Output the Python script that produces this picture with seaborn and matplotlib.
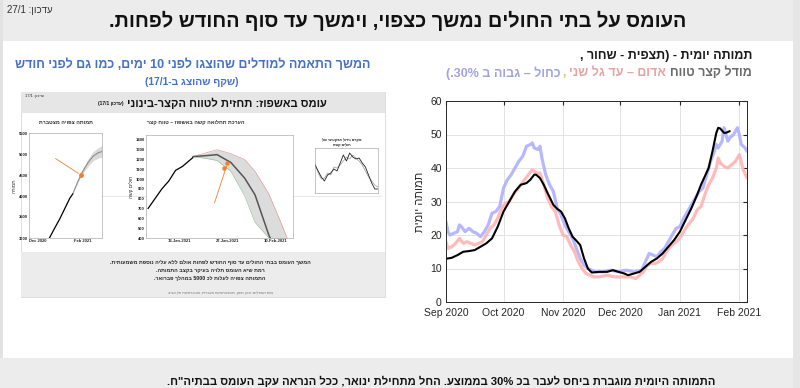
import re
import numpy as np
import pandas as pd
import matplotlib
matplotlib.use('Agg')
import matplotlib.pyplot as plt
from matplotlib.patches import Rectangle
import seaborn as sns

sns.set_style('white')
plt.rcParams['font.family'] = ['Liberation Sans', 'DejaVu Sans']


def heb(s):
    # very small bidi: reverse the hebrew line, keep numbers/latin runs left-to-right
    r = s[::-1]
    r = re.sub(r'[0-9A-Za-z%][0-9A-Za-z./:%\-]*[0-9A-Za-z%]|[0-9A-Za-z]', lambda m: m.group(0)[::-1], r)
    return r.translate(str.maketrans('()', ')('))


# ---- main chart: daily deaths (days counted from 1 Sep 2020) ----
start = pd.Timestamp('2020-09-01')
obs_days = [0, 3, 6, 9, 12, 15, 18, 21, 24, 27, 30, 33, 36, 39, 42, 44, 46, 47, 49, 51, 53, 56,
            58, 60, 62, 64, 66, 68, 70, 72, 74, 76, 80, 84, 87, 90, 93, 95, 98, 101, 104, 107,
            110, 113, 116, 119, 122, 125, 128, 131, 133, 135, 137, 139, 141, 142, 143, 145, 146, 148]
obs_vals = [12.9, 13.2, 14, 15, 15.2, 15.5, 16.5, 17.5, 19, 22.5, 27, 30, 33, 35, 35.5, 36.5, 38, 38,
            37, 35, 32.5, 29, 27.8, 27, 25, 22, 19.5, 18.3, 17, 13, 10, 8.8, 9, 9, 9.5, 9, 8.5, 8,
            8.5, 9, 10.5, 12, 13, 14.5, 16.5, 18.5, 21, 24.5, 28, 32, 35, 37.5, 40, 45, 50.5, 52,
            51.8, 50.5, 50.5, 51]

blue_days = [0, 1, 2, 4, 6, 7, 8, 10, 12, 14, 16, 18, 20, 22, 24, 26, 28, 30, 32, 34, 36, 38, 40,
             42, 44, 45, 46, 48, 49, 50, 52, 54, 56, 58, 60, 62, 64, 66, 68, 70, 72, 74, 76, 78,
             82, 86, 90, 94, 98, 102, 104, 106, 108, 110, 112, 114, 116, 118, 120, 122, 124, 126,
             128, 130, 132, 134, 136, 138, 140, 141, 142, 144, 145, 146, 147, 148, 150, 152, 153,
             154, 156, 157]
blue_vals = [24, 21, 20, 20.5, 21, 23, 22.5, 21, 22, 21, 20.5, 19.5, 21, 23, 26.5, 27, 28.5, 34,
             36.5, 38, 40, 42, 43.5, 46.5, 47, 47.5, 46, 45.5, 46.5, 43, 38, 35, 33, 28, 26, 23,
             21, 19, 16, 13, 11, 10, 9.5, 9, 9, 9.5, 9, 9.5, 9, 9.5, 12, 14.5, 14, 13.5, 15, 16,
             18, 20, 22, 22.5, 25, 27, 29, 31, 33, 34, 38, 42, 45, 47, 46, 48, 52, 50, 48, 49, 50,
             52, 50, 47, 46, 45]

red_days = [0, 1, 3, 5, 7, 9, 11, 13, 15, 17, 19, 21, 23, 25, 27, 29, 31, 33, 35, 37, 39, 41, 43,
            45, 47, 49, 51, 53, 55, 57, 59, 61, 63, 65, 67, 69, 71, 73, 75, 77, 80, 84, 88, 92,
            96, 99, 101, 103, 105, 107, 109, 111, 113, 115, 117, 119, 121, 123, 125, 127, 129,
            131, 133, 135, 137, 139, 141, 142, 143, 145, 147, 149, 151, 153, 155, 157]
red_vals = [18, 16, 16.5, 17.5, 19, 17.5, 18, 17.5, 17, 17.5, 18, 20, 22, 23, 25, 28, 29.5, 30,
            32, 33.5, 35, 36.5, 38, 39.5, 38.5, 38.5, 35, 31, 28.5, 27, 23, 20, 19.5, 17, 15, 12,
            10, 8.5, 8, 7.5, 7.5, 8, 7.5, 7.5, 7.5, 7, 8, 9, 11, 11.5, 11.5, 12, 13, 15, 16.5,
            17.5, 18.5, 20, 22, 23.5, 25, 27.5, 28.5, 32, 35, 37, 40, 43, 41.5, 40.5, 40, 41, 42,
            44, 39.5, 37]

month_ticks = ['2020-09-01', '2020-10-01', '2020-11-01', '2020-12-01', '2021-01-01', '2021-02-01']
month_labels = ['Sep 2020', 'Oct 2020', 'Nov 2020', 'Dec 2020', 'Jan 2021', 'Feb 2021']

# ---- embedded slide (17/1): cumulative deaths ----
cum_obs_dates = ['2020-12-17', '2020-12-24', '2020-12-31', '2021-01-07', '2021-01-14', '2021-01-18']
cum_obs_vals = [3000, 3230, 3450, 3700, 3950, 4050]
cum_fc_dates = ['2021-01-18', '2021-01-25', '2021-02-01', '2021-02-08', '2021-02-15', '2021-02-22', '2021-02-27']
cum_fc_vals = [4050, 4350, 4600, 4800, 4950, 5030, 5060]
cum_fc_band = [0, 30, 60, 90, 110, 125, 135]
cum_today = ('2021-01-29', 4500)

# ---- embedded slide: severe patients, short range ----
sev_obs_dates = ['2021-01-04', '2021-01-06', '2021-01-08', '2021-01-10', '2021-01-12', '2021-01-14', '2021-01-16', '2021-01-17']
sev_obs_vals = [700, 800, 900, 980, 1090, 1130, 1190, 1220]
sev_fc_dates = ['2021-01-17', '2021-01-21', '2021-01-24', '2021-01-28', '2021-02-01', '2021-02-04', '2021-02-08', '2021-02-11', '2021-02-14']
sev_fc_mid = [1230, 1240, 1250, 1170, 1010, 840, 430, 200, 0]
sev_fc_high = [1230, 1270, 1300, 1260, 1200, 1080, 850, 600, 340]
sev_fc_low = [1230, 1210, 1190, 1080, 830, 560, 400, 200, 0]
sev_today = [('2021-01-26', 1110), ('2021-01-27', 1160)]
sev_ticks = ['2021-01-13', '2021-01-27', '2021-02-10']
sev_tick_labels = ['13-Jan-2021', '27-Jan-2021', '10-Feb-2021']

# ---- embedded slide: effective growth factor (tiny) ----
r_x = [0, 2, 4, 6, 8, 10, 12, 14, 16, 18, 20, 22, 24, 26, 28, 30, 32, 34, 36, 38, 40]
r_black = [1.08, 1.02, 0.96, 0.92, 0.98, 1.0, 1.04, 1.02, 1.1, 1.18, 1.12, 1.2, 1.16, 1.14, 1.15, 1.1, 1.06, 0.98, 0.9, 0.84, 0.84]
r_gray = [1.1, 1.0, 0.94, 0.95, 1.0, 0.98, 1.06, 1.05, 1.08, 1.12, 1.16, 1.14, 1.18, 1.15, 1.12, 1.08, 1.02, 0.96, 0.92, 0.88, 0.86]

fig = plt.figure(figsize=(8, 3.88), dpi=100)
fig.patch.set_facecolor('white')

# background layer in pixel coordinates
bg = fig.add_axes([0, 0, 1, 1])
bg.set_xlim(0, 800)
bg.set_ylim(388, 0)
bg.axis('off')
bg.add_patch(Rectangle((0, 0), 793, 41, color='#ececec', lw=0))
bg.add_patch(Rectangle((793, 0), 7, 388, color='#e6e6e6', lw=0))
bg.add_patch(Rectangle((0, 0), 3, 388, color='#e2e2e2', lw=0))
bg.add_patch(Rectangle((0, 358), 793, 30, color='#ececec', lw=0))
bg.text(7, 10, heb('עדכון: 27/1'), fontsize=7, ha='left', va='center', color='#333333')
bg.text(398, 21, heb('העומס על בתי החולים נמשך כצפוי, וימשך עד סוף החודש לפחות.'),
        fontsize=14.3, fontweight='bold', ha='center', va='center', color='#111111')
bg.text(441, 381, heb('התמותה היומית מוגברת ביחס לעבר בכ 30% בממוצע. החל מתחילת ינואר, ככל הנראה עקב העומס בבתיה"ח.'),
        fontsize=8.1, fontweight='bold', ha='center', va='center', color='#111111')

# left headings
bg.text(193, 65, heb('המשך התאמה למודלים שהוצגו לפני 10 ימים, כמו גם לפני חודש'),
        fontsize=9, fontweight='bold', ha='center', va='center', color='#4472c4')
bg.text(192, 82, heb('(שקף שהוצג ב-17/1)'), fontsize=7.4, fontweight='bold',
        ha='center', va='center', color='#4472c4')

# right headings (coloured pieces placed right to left)
bg.text(752, 56, heb('תמותה יומית - (תצפית - שחור ,'), fontsize=9, fontweight='bold',
        ha='right', va='center', color='#1a1a1a')
renderer = fig.canvas.get_renderer()
xr = 752
for piece, col in [('מודל קצר טווח', '#6b6b6b'), ('אדום – עד גל שני', '#e6a3a3'),
                   (',', '#e3c56a'), ('כחול – גבוה ב 30%.)', '#a3a3e0')]:
    t = bg.text(xr, 73, heb(piece), fontsize=9, fontweight='bold', ha='right', va='center', color=col)
    w = t.get_window_extent(renderer).width
    xr -= w + (1 if piece == ',' else 4)

# embedded slide frame
bg.add_patch(Rectangle((21, 92), 364, 205, facecolor='white', edgecolor='#d8d8d8', lw=0.6))
bg.add_patch(Rectangle((21, 92), 364, 21, color='#e6e6e6', lw=0))
bg.add_patch(Rectangle((21, 252), 364, 45, color='#ececec', lw=0))
bg.text(25, 96, heb('עדכון: 17/1'), fontsize=3, ha='left', va='center', color='#333333')
bg.text(327, 103, heb('עומס באשפוז: תחזית לטווח הקצר-בינוני'), fontsize=8,
        fontweight='bold', ha='right', va='center', color='#111111')
bg.text(124, 104, heb('(עדכון 17/1)'), fontsize=3.5, fontweight='bold', ha='right',
        va='center', color='#111111')
bg.text(66, 122, heb('תמותה צפויה מצטברת'), fontsize=3.8, fontweight='bold', ha='center', va='center')
bg.text(196, 122, heb('הערכת תחלואה קשה באשפוז – טווח קצר'), fontsize=3.8, fontweight='bold',
        ha='center', va='center')
bg.text(342, 140, heb('מקדם גידול אפקטיבי של'), fontsize=2.6, fontweight='bold', ha='center', va='center')
bg.text(342, 145, heb('חולים קשה'), fontsize=2.6, fontweight='bold', ha='center', va='center')
bg.plot([29, 382], [196, 196], color='#e0e0e0', lw=0.5)
for yy, line in [(262, 'המשך העומס בבתי החולים עד סוף החודש לפחות אולם ללא עליה נוספת משמעותית.'),
                 (270, 'רמת שיא העומס תלויה בעיקר בקצב התמותה.'),
                 (278, 'התמותה צפויה לעלות לכ 5000 במהלך פברואר.')]:
    bg.text(210, yy, heb(line), fontsize=3.8, fontweight='bold', ha='center', va='center', color='#222222')
bg.text(220, 293, heb('צוות המודלים: מכון ויצמן, האוניברסיטה העברית, אוניברסיטת תל-אביב'),
        fontsize=2.6, ha='center', va='center', color='#777777')

# ---- main chart ----
ax = fig.add_axes([446 / 800, 1 - 302 / 388, 301 / 800, 201 / 388])
sns.lineplot(x=start + pd.to_timedelta(blue_days, unit='D'), y=blue_vals, ax=ax,
             color='#b0b0ff', lw=2.3, alpha=0.9)
sns.lineplot(x=start + pd.to_timedelta(red_days, unit='D'), y=red_vals, ax=ax,
             color='#ffb4b4', lw=2.3, alpha=0.9)
sns.lineplot(x=start + pd.to_timedelta(obs_days, unit='D'), y=obs_vals, ax=ax,
             color='black', lw=1.5)
ax.set_xlim(pd.Timestamp('2020-09-01'), pd.Timestamp('2021-02-05'))
ax.set_ylim(0, 60)
ax.set_yticks(range(0, 61, 10))
ax.set_xticks(pd.to_datetime(month_ticks))
ax.set_xticklabels(month_labels)
ax.grid(True, color='#e3e3e3', lw=0.7)
ax.tick_params(direction='in', length=3, top=True, right=True, labelsize=7.5,
               colors='#262626')
ax.tick_params(axis='x', pad=4)
ax.tick_params(axis='y', pad=3)
for s in ax.spines.values():
    s.set_color('#262626')
    s.set_linewidth(0.7)
ax.set_ylabel(heb('תמותה יומית'), fontsize=8, color='#262626', labelpad=4)
ax.set_xlabel('')

# ---- embedded chart 1 ----
a1 = fig.add_axes([29 / 800, 1 - 238 / 388, 73 / 800, 105 / 388])
fc1 = pd.to_datetime(cum_fc_dates)
lo1 = np.array(cum_fc_vals) - np.array(cum_fc_band)
hi1 = np.array(cum_fc_vals) + np.array(cum_fc_band)
a1.fill_between(fc1, lo1, hi1, color='#d9d9d9', lw=0)
sns.lineplot(x=fc1, y=cum_fc_vals, ax=a1, color='#8c8c8c', lw=0.8)
sns.lineplot(x=pd.to_datetime(cum_obs_dates), y=cum_obs_vals, ax=a1, color='black', lw=0.9)
a1.plot(pd.Timestamp(cum_today[0]), cum_today[1], 'o', color='#f07f2e', ms=2.5)
a1.annotate('', xy=(pd.Timestamp(cum_today[0]), cum_today[1]),
            xytext=(pd.Timestamp('2020-12-22'), 4930),
            arrowprops=dict(arrowstyle='-', color='#f07f2e', lw=0.6))
a1.set_xlim(pd.Timestamp('2020-11-19'), pd.Timestamp('2021-02-27'))
a1.set_ylim(3000, 5500)
a1.set_yticks(range(3000, 5501, 500))
a1.set_xticks(pd.to_datetime(['2020-12-01', '2021-02-01']))
a1.set_xticklabels(['Dec 2020', 'Feb 2021'])
a1.set_ylabel(heb('תמותה'), fontsize=3.5, labelpad=1)
bg.text(58, 149, heb('נתוני היום'), fontsize=5.5, color='#f07f2e', ha='center', va='center')

# ---- embedded chart 2 ----
a2 = fig.add_axes([146 / 800, 1 - 238 / 388, 147 / 800, 103 / 388])
fc2 = pd.to_datetime(sev_fc_dates)
a2.fill_between(fc2, sev_fc_low, sev_fc_high, color='#dcdcdc', lw=0)
a2.plot(fc2, sev_fc_high, color='#e88a8a', lw=0.4)
a2.plot(fc2, sev_fc_low, color='#7fbf8f', lw=0.4)
sns.lineplot(x=fc2, y=sev_fc_mid, ax=a2, color='#555555', lw=1.1)
sns.lineplot(x=pd.to_datetime(sev_obs_dates), y=sev_obs_vals, ax=a2, color='black', lw=0.9)
for d, v in sev_today:
    a2.plot(pd.Timestamp(d), v, 'o', color='#f07f2e', ms=2.2)
a2.annotate('', xy=(pd.Timestamp(sev_today[1][0]), sev_today[1][1]),
            xytext=(pd.Timestamp('2021-01-23'), 730),
            arrowprops=dict(arrowstyle='-', color='#f07f2e', lw=0.6))
a2.set_xlim(pd.Timestamp('2021-01-03 10:00'), pd.Timestamp('2021-02-15'))
a2.set_ylim(400, 1450)
a2.set_yticks(range(400, 1401, 100))
a2.set_xticks(pd.to_datetime(sev_ticks))
a2.set_xticklabels(sev_tick_labels)
a2.set_ylabel(heb('חולים קשה'), fontsize=3.5, labelpad=1)
bg.text(210, 218, heb('נתוני היום'), fontsize=5.5, color='#f07f2e', ha='center', va='center')

# ---- embedded chart 3 ----
a3 = fig.add_axes([315 / 800, 1 - 193 / 388, 63 / 800, 45 / 388])
sns.lineplot(x=r_x, y=r_gray, ax=a3, color='#9a9a9a', lw=0.5)
sns.lineplot(x=r_x, y=r_black, ax=a3, color='#222222', lw=0.6)
a3.set_xlim(0, 40)
a3.set_ylim(0.8, 1.25)
a3.set_xticks([5, 15, 25, 35])
a3.set_xticklabels(['', '', '', ''])
a3.set_yticklabels([])

for a in (a1, a2, a3):
    a.tick_params(labelsize=3, length=1.2, width=0.3, pad=1, direction='in')
    for s in a.spines.values():
        s.set_color('#999999')
        s.set_linewidth(0.4)
    a.set_xlabel('')
    for lab in a.get_xticklabels() + a.get_yticklabels():
        lab.set_fontweight('bold')

fig.savefig('out.png', dpi=100)
